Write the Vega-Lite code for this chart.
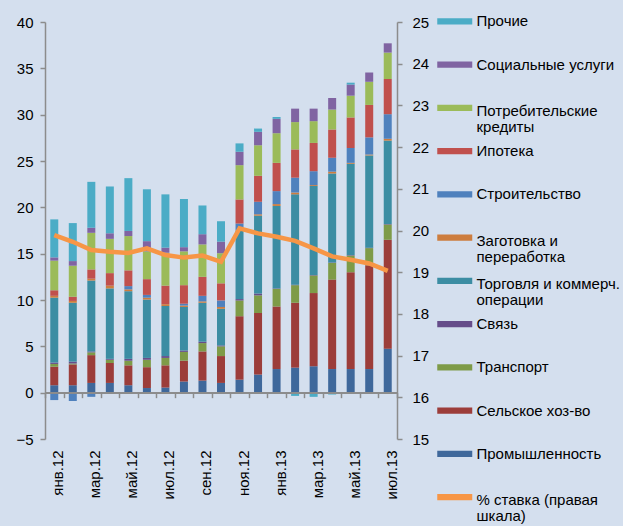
{
  "$schema": "https://vega.github.io/schema/vega-lite/v6.json",
  "width": 352,
  "height": 417,
  "autosize": {"type": "none"},
  "padding": {"left": 45, "top": 22, "right": 226, "bottom": 87},
  "background": "#D4DFEE",
  "config": {
    "view": {"stroke": null},
    "font": "Liberation Sans",
    "axis": {"labelFont": "Liberation Sans", "labelFontSize": 15, "labelColor": "#000000", "domainColor": "#8C8C8C", "tickColor": "#8C8C8C", "domainWidth": 1.5, "tickWidth": 1.5, "grid": false, "title": null}
  },
  "datasets": {
    "cats": [
      {"code": "prom", "name": "Промышленность", "k": 1},
      {"code": "sel", "name": "Сельское хоз-во", "k": 2},
      {"code": "tr", "name": "Транспорт", "k": 3},
      {"code": "sv", "name": "Связь", "k": 4},
      {"code": "tor", "name": "Торговля и коммерч.|операции", "k": 5},
      {"code": "zag", "name": "Заготовка и|переработка", "k": 6},
      {"code": "str", "name": "Строительство", "k": 7},
      {"code": "ipo", "name": "Ипотека", "k": 8},
      {"code": "pot", "name": "Потребительские|кредиты", "k": 9},
      {"code": "soc", "name": "Социальные услуги", "k": 10},
      {"code": "pro", "name": "Прочие", "k": 11}
    ],
    "bars": [
      {"m": "янв.12", "prom": 0.8, "sel": 2.0, "tr": 0.3, "sv": 0.15, "tor": 7.0, "zag": 0.2, "str": -0.8, "ipo": 0.6, "pot": 3.2, "soc": 0.35, "pro": 4.1},
      {"m": "фев.12", "prom": 0.8, "sel": 2.25, "tr": 0.1, "sv": 0.2, "tor": 6.35, "zag": 0.2, "str": -0.9, "ipo": 0.45, "pot": 3.35, "soc": 0.5, "pro": 4.1},
      {"m": "мар.12", "prom": 1.05, "sel": 3.0, "tr": 0.3, "sv": 0.1, "tor": 7.65, "zag": 0.2, "str": -0.45, "ipo": 1.0, "pot": 3.95, "soc": 0.55, "pro": 4.95},
      {"m": "апр.12", "prom": 1.05, "sel": 2.15, "tr": 0.35, "sv": 0.1, "tor": 7.6, "zag": 0.3, "str": 0, "ipo": 1.35, "pot": 3.7, "soc": 0.6, "pro": 5.05},
      {"m": "май.12", "prom": 0.8, "sel": 2.15, "tr": 0.5, "sv": 0.2, "tor": 7.3, "zag": 0.2, "str": 0.35, "ipo": 1.7, "pot": 3.7, "soc": 0.55, "pro": 5.7},
      {"m": "июн.12", "prom": 0.5, "sel": 2.25, "tr": 0.8, "sv": 0.2, "tor": 6.3, "zag": 0.2, "str": 0.3, "ipo": 1.7, "pot": 3.0, "soc": 1.1, "pro": 5.6},
      {"m": "июл.12", "prom": 0.55, "sel": 2.4, "tr": 0.8, "sv": 0.2, "tor": 5.4, "zag": 0.2, "str": 0, "ipo": 2.0, "pot": 3.55, "soc": 0.55, "pro": 5.75},
      {"m": "авг.12", "prom": 1.2, "sel": 2.25, "tr": 0.95, "sv": 0.15, "tor": 4.7, "zag": 0.15, "str": 0.2, "ipo": 2.0, "pot": 3.65, "soc": 0.45, "pro": 5.2},
      {"m": "сен.12", "prom": 1.3, "sel": 3.15, "tr": 0.9, "sv": 0.15, "tor": 4.2, "zag": 0.15, "str": 0.6, "ipo": 2.05, "pot": 3.5, "soc": 1.1, "pro": 3.1},
      {"m": "окт.12", "prom": 1.05, "sel": 2.9, "tr": 1.05, "sv": 0.1, "tor": 3.95, "zag": 0.2, "str": 0.7, "ipo": 1.85, "pot": 3.25, "soc": 1.25, "pro": 2.2},
      {"m": "ноя.12", "prom": 1.4, "sel": 6.85, "tr": 1.7, "sv": 0.15, "tor": 7.4, "zag": 0.05, "str": 0.7, "ipo": 2.6, "pot": 3.7, "soc": 1.45, "pro": 0.9},
      {"m": "дек.12", "prom": 1.95, "sel": 6.65, "tr": 1.9, "sv": 0.2, "tor": 8.4, "zag": 0.15, "str": 1.35, "ipo": 2.8, "pot": 3.3, "soc": 1.45, "pro": 0.35},
      {"m": "янв.13", "prom": 2.55, "sel": 6.75, "tr": 1.9, "sv": 0.05, "tor": 8.9, "zag": 0.2, "str": 1.4, "ipo": 3.05, "pot": 3.2, "soc": 1.55, "pro": 0.2},
      {"m": "фев.13", "prom": 2.7, "sel": 7.0, "tr": 1.9, "sv": 0.05, "tor": 9.75, "zag": 0.2, "str": 1.6, "ipo": 3.05, "pot": 2.95, "soc": 1.45, "pro": -0.35},
      {"m": "мар.13", "prom": 2.85, "sel": 7.9, "tr": 1.9, "sv": 0.05, "tor": 9.6, "zag": 0.1, "str": 1.5, "ipo": 3.05, "pot": 2.35, "soc": 1.35, "pro": -0.45},
      {"m": "апр.13", "prom": 2.55, "sel": 9.65, "tr": 1.8, "sv": 0.05, "tor": 9.6, "zag": 0.2, "str": 1.5, "ipo": 3.05, "pot": 2.15, "soc": 1.25, "pro": -0.2},
      {"m": "май.13", "prom": 2.55, "sel": 10.45, "tr": 1.8, "sv": 0.05, "tor": 9.85, "zag": 0.1, "str": 1.6, "ipo": 3.3, "pot": 2.35, "soc": 1.2, "pro": 0.2},
      {"m": "июн.13", "prom": 2.55, "sel": 11.2, "tr": 1.85, "sv": 0.05, "tor": 9.95, "zag": 0.1, "str": 1.85, "ipo": 3.5, "pot": 2.5, "soc": 1.0, "pro": 0},
      {"m": "июл.13", "prom": 4.75, "sel": 11.75, "tr": 1.65, "sv": 0.05, "tor": 9.0, "zag": 0.2, "str": 2.65, "ipo": 3.8, "pot": 2.85, "soc": 1.0, "pro": 0}
    ],
    "rate": [
      {"m": "янв.12", "r": 19.89},
      {"m": "фев.12", "r": 19.73},
      {"m": "мар.12", "r": 19.53},
      {"m": "апр.12", "r": 19.49},
      {"m": "май.12", "r": 19.46},
      {"m": "июн.12", "r": 19.57},
      {"m": "июл.12", "r": 19.41},
      {"m": "авг.12", "r": 19.35},
      {"m": "сен.12", "r": 19.4},
      {"m": "окт.12", "r": 19.25},
      {"m": "ноя.12", "r": 20.05},
      {"m": "дек.12", "r": 19.93},
      {"m": "янв.13", "r": 19.85},
      {"m": "фев.13", "r": 19.75},
      {"m": "мар.13", "r": 19.57},
      {"m": "апр.13", "r": 19.38},
      {"m": "май.13", "r": 19.3},
      {"m": "июн.13", "r": 19.21},
      {"m": "июл.13", "r": 19.03}
    ]
  },
  "layer": [
    {
      "data": {"name": "bars"},
      "transform": [
        {"fold": ["prom", "sel", "tr", "sv", "tor", "zag", "str", "ipo", "pot", "soc", "pro"], "as": ["code", "v"]},
        {"lookup": "code", "from": {"data": {"name": "cats"}, "key": "code", "fields": ["name", "k"]}}
      ],
      "mark": {"type": "bar", "size": 8},
      "encoding": {
        "x": {
          "field": "m", "type": "ordinal",
          "sort": ["янв.12","фев.12","мар.12","апр.12","май.12","июн.12","июл.12","авг.12","сен.12","окт.12","ноя.12","дек.12","янв.13","фев.13","мар.13","апр.13","май.13","июн.13","июл.13"],
          "scale": {"paddingInner": 0, "paddingOuter": 0},
          "axis": {"orient": "bottom", "values": ["янв.12","мар.12","май.12","июл.12","сен.12","ноя.12","янв.13","мар.13","май.13","июл.13"], "labelAngle": -90, "ticks": false, "domain": false, "labelPadding": 11, "labelOffset": 4}
        },
        "y": {
          "field": "v", "type": "quantitative", "stack": "zero",
          "scale": {"domain": [-5, 40], "nice": false},
          "axis": {"orient": "left", "values": [-5, 0, 5, 10, 15, 20, 25, 30, 35, 40], "tickSize": 5, "labelPadding": 7}
        },
        "color": {
          "field": "name", "type": "nominal",
          "scale": {
            "domain": ["Прочие", "Социальные услуги", "Потребительские|кредиты", "Ипотека", "Строительство", "Заготовка и|переработка", "Торговля и коммерч.|операции", "Связь", "Транспорт", "Сельское хоз-во", "Промышленность", "% ставка (правая|шкала)"],
            "range": ["#4BACC6", "#8064A2", "#9BBB59", "#C0504D", "#4F81BD", "#CD7D3E", "#3C8DA3", "#664D8A", "#7E9B48", "#9C3D3A", "#3F689B", "#F79646"]
          },
          "legend": {
            "orient": "none", "legendX": 400.75, "legendY": -9.55, "title": null, "padding": 0,
            "symbolType": "M-2,-0.36H2V0.36H-2Z", "symbolSize": 306, "symbolStrokeWidth": 0,
            "labelFont": "Liberation Sans", "labelFontSize": 15, "labelColor": "#000000",
            "labelExpr": "split(datum.label, '|')", "labelLimit": 300, "labelOffset": 12.75,
            "gridAlign": "all", "rowPadding": 7.25,
            "encode": {
              "labels": {
                "update": {
                  "lineHeight": {"value": 16},
                  "baseline": {"signal": "indexof(datum.value, '|') >= 0 ? 'top' : 'middle'"},
                  "dy": {"signal": "indexof(datum.value, '|') >= 0 ? -4 : 0"}
                }
              }
            }
          }
        },
        "order": {"field": "k", "type": "quantitative"}
      }
    },
    {
      "data": {"name": "rate"},
      "mark": {"type": "rule", "color": "#8C8C8C", "strokeWidth": 1.5},
      "encoding": {
        "y": {"datum": 0, "type": "quantitative", "scale": {"domain": [-5, 40], "nice": false}, "axis": null}
      }
    },
    {
      "data": {"name": "rate"},
      "mark": {"type": "line", "strokeWidth": 4.5},
      "encoding": {
        "x": {
          "field": "m", "type": "ordinal",
          "sort": ["янв.12","фев.12","мар.12","апр.12","май.12","июн.12","июл.12","авг.12","сен.12","окт.12","ноя.12","дек.12","янв.13","фев.13","мар.13","апр.13","май.13","июн.13","июл.13"],
          "axis": {"orient": "bottom", "labels": false, "domain": false, "ticks": true, "tickBand": "extent", "tickSize": 5, "offset": -46.33}
        },
        "y": {
          "field": "r", "type": "quantitative",
          "scale": {"domain": [15, 25], "nice": false},
          "axis": {"orient": "right", "values": [15, 16, 17, 18, 19, 20, 21, 22, 23, 24, 25], "tickSize": 5, "labelPadding": 10}
        },
        "color": {"datum": "% ставка (правая|шкала)"}
      }
    }
  ],
  "resolve": {"scale": {"y": "independent"}, "axis": {"y": "independent", "x": "independent"}}
}
